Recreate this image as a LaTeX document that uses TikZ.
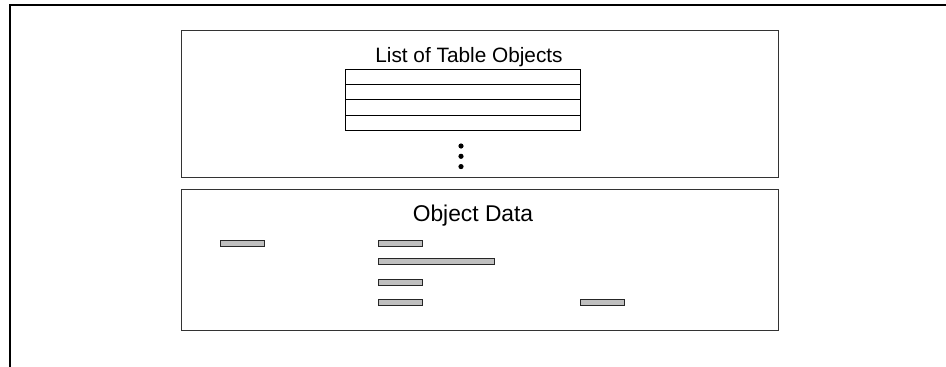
\documentclass[tikz,border=0pt]{standalone}
\usepackage{fontspec}
\setmainfont{Liberation Sans}
\begin{document}
\begin{tikzpicture}[x=1pt,y=-1pt,
  frame/.style={draw=black,line width=2.2pt},
  panel/.style={draw=black!80,line width=1pt},
  row/.style={draw=black,line width=1.1pt,minimum width=235pt,minimum height=15.3pt,inner sep=0pt},
  bar/.style={draw=black!85,fill=black!25,line width=1pt,minimum height=6pt,inner sep=0pt},
  title/.style={inner sep=0pt,anchor=base}]
\useasboundingbox (0,0) rectangle (946,367);
\fill[white] (0,0) rectangle (946,367);
% outer frame (left and top edges)
\draw[frame] (10,370) coordinate (fbl) -- (10,5) coordinate (ftl) -- (950,5) coordinate (ftr);
% top panel
\node[panel,minimum width=597pt,minimum height=147pt,inner sep=0pt] (toppanel) at (479.5,103.5) {};
\node[title,font=\fontsize{20.8}{23}\selectfont] (ltitle) at (469,62.5) {List of Table Objects};
\node[row] (r1) at (463,76.8) {};
\node[row] (r2) at (463,92.1) {};
\node[row] (r3) at (463,107.4) {};
\node[row] (r4) at (463,122.7) {};
\fill (461,146) circle (2.6) (461,156.3) circle (2.6) (461,166.6) circle (2.6);
% bottom panel
\node[panel,minimum width=597pt,minimum height=141pt,inner sep=0pt] (botpanel) at (479.5,259.5) {};
\node[title,font=\fontsize{22.8}{25}\selectfont] (otitle) at (473,221) {Object Data};
\node[bar,minimum width=44pt] (b1) at (242,243) {};
\node[bar,minimum width=44pt] (b2) at (400.3,243) {};
\node[bar,minimum width=116pt] (b3) at (436.2,261.5) {};
\node[bar,minimum width=44pt] (b4) at (400.3,282.6) {};
\node[bar,minimum width=44pt] (b5) at (400.3,302.3) {};
\node[bar,minimum width=44pt] (b6) at (602.8,302.3) {};
\end{tikzpicture}
\end{document}
